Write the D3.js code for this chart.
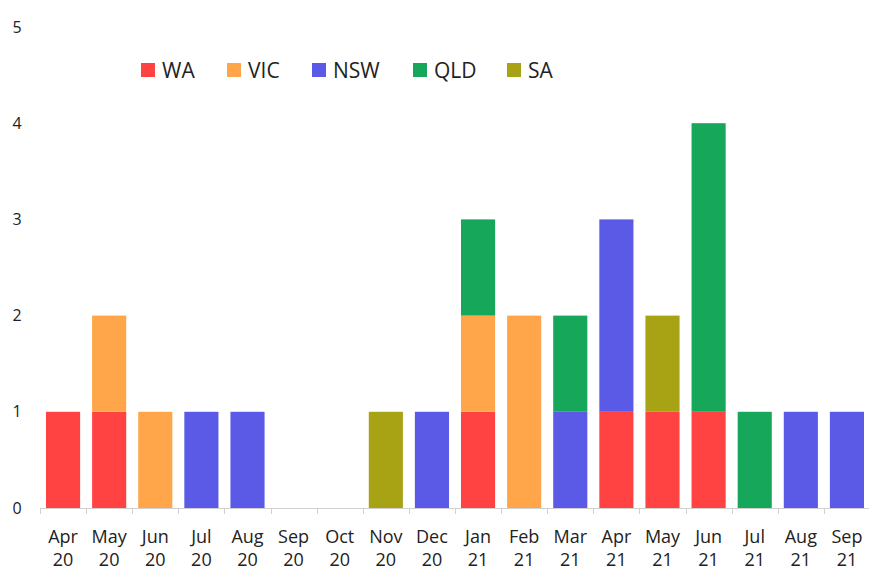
<!DOCTYPE html>
<html><head><meta charset="utf-8">
<script src="https://cdn.jsdelivr.net/npm/d3@7"></script>
<style>body{margin:0;background:#fff}svg{display:block}text{font-family:"Open Sans","Noto Sans",sans-serif;fill:#222}</style>
</head><body><svg id="c" width="869" height="570"></svg>
<script>
const months = ["Apr 20","May 20","Jun 20","Jul 20","Aug 20","Sep 20","Oct 20","Nov 20","Dec 20","Jan 21","Feb 21","Mar 21","Apr 21","May 21","Jun 21","Jul 21","Aug 21","Sep 21"];
const states = ["WA","VIC","NSW","QLD","SA"];
const WA  = [1,1,0,0,0,0,0,0,0,1,0,0,1,1,1,0,0,0];
const VIC = [0,1,1,0,0,0,0,0,0,1,2,0,0,0,0,0,0,0];
const NSW = [0,0,0,1,1,0,0,0,1,0,0,1,2,0,0,0,1,1];
const QLD = [0,0,0,0,0,0,0,0,0,1,0,1,0,0,3,1,0,0];
const SA  = [0,0,0,0,0,0,0,1,0,0,0,0,0,1,0,0,0,0];
const yTicks = [0,1,2,3,4,5];
const colors = ["#FF4343","#FFA64A","#5A5AE6","#17A75B","#A8A215"];

const svg = d3.select("#c");
const series = {WA,VIC,NSW,QLD,SA};
const table = months.map((m,i)=>{const o={month:m};states.forEach(s=>o[s]=series[s][i]);return o;});
const stack = d3.stack().keys(states)(table);

const x = d3.scaleBand().domain(months).range([40,870]).paddingInner(0.26).paddingOuter(0.13);
const y = d3.scaleLinear().domain([0,5]).range([508,27]);
const color = d3.scaleOrdinal().domain(states).range(colors);

// y labels
svg.append("g").selectAll("text").data(yTicks).join("text")
  .attr("x",17).attr("y",d=>y(d)).attr("dy","0.35em").attr("text-anchor","middle")
  .style("font-size","16px").text(d=>d);

// bars
svg.append("g").selectAll("g").data(stack).join("g").attr("fill",d=>color(d.key))
  .selectAll("rect").data(d=>d.filter(p=>p[1]>p[0])).join("rect")
  .attr("x",d=>x(d.data.month)).attr("width",x.bandwidth())
  .attr("y",d=>y(d[1])).attr("height",d=>y(d[0])-y(d[1]));

// x axis
const step = x.step();
const x0 = 40;
const ax = svg.append("g");
ax.append("line").attr("x1",x0).attr("x2",869).attr("y1",508.5).attr("y2",508.5).attr("stroke","#d0d0d0").attr("stroke-width",1);
ax.selectAll("line.t").data(d3.range(months.length+1)).join("line").attr("class","t")
  .attr("x1",i=>Math.round(x0+i*step)+0.5).attr("x2",i=>Math.round(x0+i*step)+0.5)
  .attr("y1",508).attr("y2",514).attr("stroke","#d0d0d0");
const lbl = ax.selectAll("text").data(months).join("text")
  .attr("text-anchor","middle").style("font-size","18px")
  .attr("transform",d=>`translate(${x(d)+x.bandwidth()/2},0)`);
lbl.append("tspan").attr("x",0).attr("y",543).text(d=>d.split(" ")[0]);
lbl.append("tspan").attr("x",0).attr("y",566).text(d=>d.split(" ")[1]);

// legend
const lx = [141,227,312,413,507];
const lg = svg.append("g").selectAll("g").data(states).join("g")
  .attr("transform",(d,i)=>`translate(${lx[i]},63)`);
lg.append("rect").attr("width",14).attr("height",14).attr("fill",d=>color(d));
lg.append("text").attr("x",21).attr("y",7).attr("dy","0.36em").style("font-size","21px").text(d=>d);
</script></body></html>
